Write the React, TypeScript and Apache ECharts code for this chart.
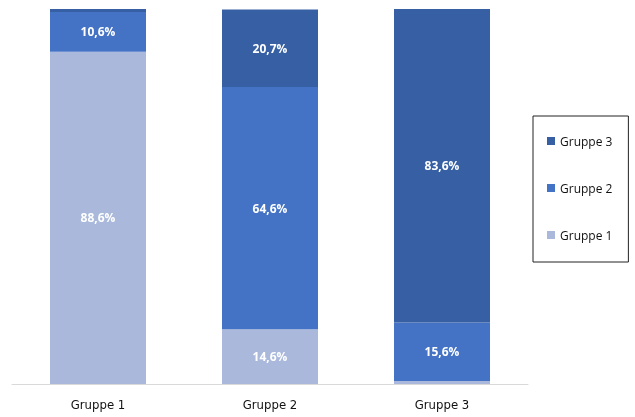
import React, { useEffect, useRef } from "react";
import * as echarts from "echarts";

const categories = ["Gruppe 1", "Gruppe 2", "Gruppe 3"];
const gruppe1 = [88.6, 14.6, 0.8];
const gruppe2 = [10.6, 64.6, 15.6];
const gruppe3 = [0.8, 20.7, 83.6];
const seriesNames = ["Gruppe 1", "Gruppe 2", "Gruppe 3"];
const colors = ["#A9B8DB", "#4472C4", "#3760A4"];

export default function App() {
  const ref = useRef<HTMLDivElement>(null);
  useEffect(() => {
    const chart = echarts.init(ref.current!, null, { renderer: "svg" });
    const data = [gruppe1, gruppe2, gruppe3];
    chart.setOption({
      animation: false,
      grid: { left: 12, right: 107, top: 9, bottom: 33 },
      legend: {
        orient: "vertical",
        left: 533,
        top: 116,
        data: ["Gruppe 3", "Gruppe 2", "Gruppe 1"],
        borderColor: "#222",
        borderWidth: 1,
        padding: [19, 16, 21, 14],
        itemGap: 35,
        itemWidth: 8,
        itemHeight: 8,
        icon: "rect",
        textStyle: { fontFamily: "Open Sans", fontSize: 12, color: "#111" },
      },
      xAxis: {
        type: "category",
        data: categories,
        axisLine: { lineStyle: { color: "#d9d9d9", width: 1 } },
        axisTick: { show: false },
        axisLabel: {
          fontFamily: "DejaVu Sans Condensed",
          fontSize: 13,
          color: "#111",
          margin: 14,
        },
      },
      yAxis: {
        type: "value",
        min: 0,
        max: 100,
        show: false,
        splitLine: { show: false },
      },
      series: seriesNames.map((name, i) => ({
        name,
        type: "bar",
        stack: "total",
        barWidth: 96,
        data: data[i],
        itemStyle: { color: colors[i] },
        label: {
          show: true,
          position: "inside",
          color: "#fff",
          fontWeight: "bold",
          fontFamily: "Open Sans",
          fontSize: 12,
          formatter: (p: any) =>
            p.value > 5 ? p.value.toFixed(1).replace(".", ",") + "%" : "",
        },
      })),
    });
    return () => chart.dispose();
  }, []);
  return (
    <div
      ref={ref}
      style={{ position: "fixed", left: 0, top: 0, width: 635, height: 417 }}
    />
  );
}
